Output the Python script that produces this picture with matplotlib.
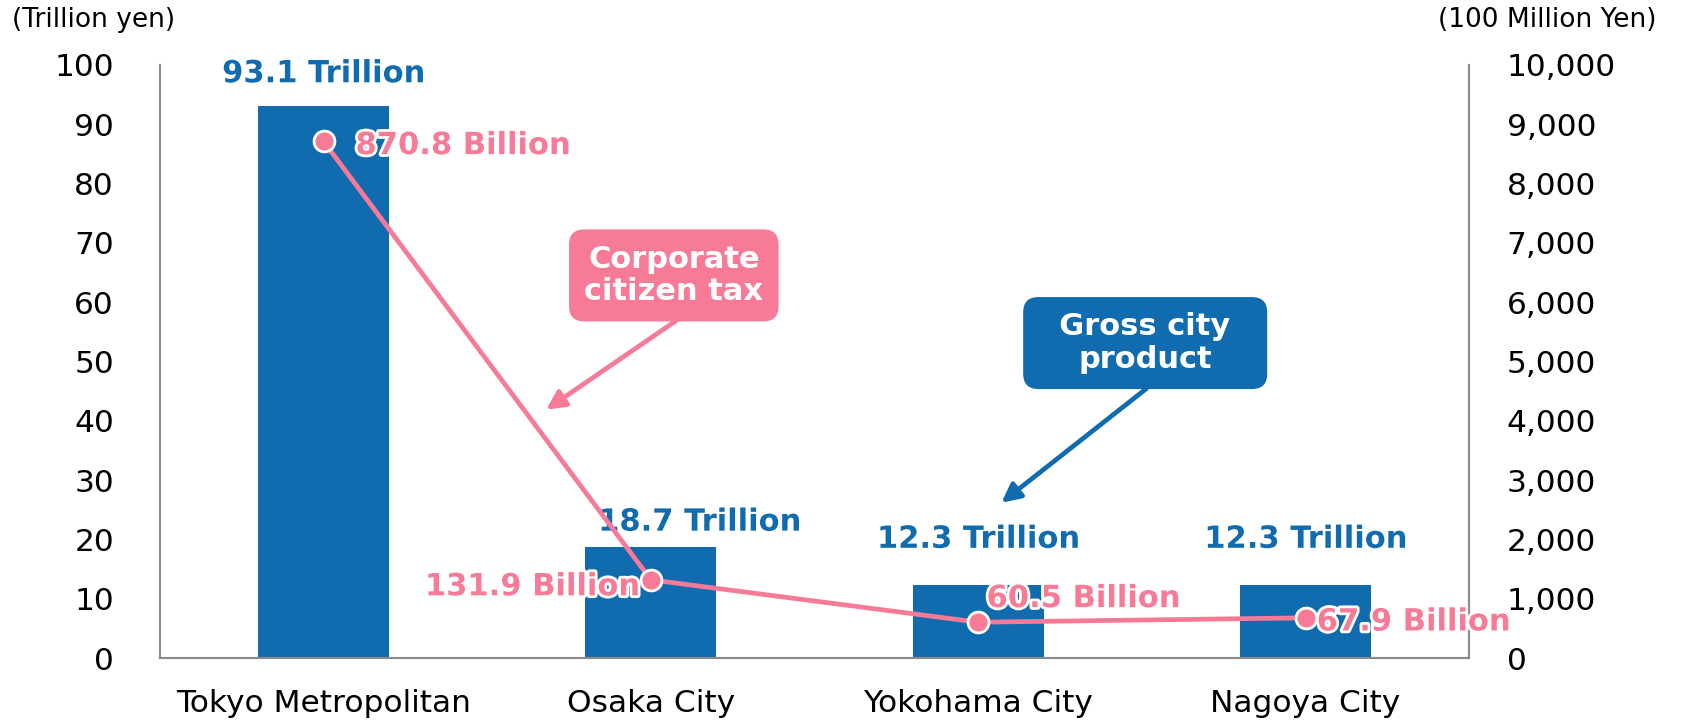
import matplotlib
matplotlib.use('Agg')
import matplotlib.pyplot as plt
import matplotlib.patheffects as pe

cities = ['Tokyo Metropolitan', 'Osaka City', 'Yokohama City', 'Nagoya City']
gdp = [93.1, 18.7, 12.3, 12.3]            # trillion yen
tax = [8708, 1319, 605, 679]              # 100 million yen
gdp_labels = ['93.1 Trillion', '18.7 Trillion', '12.3 Trillion', '12.3 Trillion']
tax_labels = ['870.8 Billion', '131.9 Billion', '60.5 Billion', '67.9 Billion']

blue = '#106BAF'
pink = '#F77A97'
grey = '#8C8C8C'

plt.rcParams['font.family'] = ['DejaVu Sans']

fig = plt.figure(figsize=(16.83, 7.28), dpi=100)
ax = fig.add_axes([0.095, 0.096, 0.778, 0.815])
ax2 = ax.twinx()

x = list(range(len(cities)))
ax.bar(x, gdp, width=0.4, color=blue, zorder=2)
ax.set_xlim(-0.5, 3.5)
ax.set_ylim(0, 100)
ax.set_yticks(range(0, 101, 10))
ax.set_xticks(x)
ax.set_xticklabels(cities, fontsize=22.5)
ax.tick_params(axis='y', length=0, pad=33, labelsize=22.5)
ax.tick_params(axis='x', length=0, pad=22)

ax2.plot(x, tax, color=pink, lw=3.4, marker='o', ms=15, mfc=pink,
         mec='white', mew=2, zorder=3)
ax2.set_ylim(0, 10000)
ax2.set_yticks(range(0, 10001, 1000))
ax2.set_yticklabels([f'{v:,}' for v in range(0, 10001, 1000)])
ax2.tick_params(axis='y', length=0, pad=27, labelsize=22.5)

for a in (ax, ax2):
    a.spines['top'].set_visible(False)
    for s in ('left', 'right', 'bottom'):
        a.spines[s].set_color(grey)
        a.spines[s].set_linewidth(1.5)

glow = [pe.withStroke(linewidth=4, foreground='white')]

# bar value labels
gdp_offsets = [(0, 23), (35, 18), (0, 33), (0, 33)]
for xi, v, lab, (dx, dy) in zip(x, gdp, gdp_labels, gdp_offsets):
    ax.annotate(lab, (xi, v), xytext=(dx, dy), textcoords='offset points',
                ha='center', va='center', fontsize=22, fontweight='bold',
                color=blue, path_effects=glow, zorder=5)

# line value labels
tax_pos = [((23, -3), 'left'), ((-8, -5), 'right'), ((6, 17), 'left'), ((8, -3), 'left')]
for xi, v, lab, ((dx, dy), ha) in zip(x, tax, tax_labels, tax_pos):
    ax2.annotate(lab, (xi, v), xytext=(dx, dy), textcoords='offset points',
                 ha=ha, va='center', fontsize=22, fontweight='bold',
                 color=pink, path_effects=glow, zorder=6)

# callout boxes
ax.annotate('', xy=(0.673, 41.6), xytext=(1.083, 57.1),
            arrowprops=dict(arrowstyle='-|>', color=pink, lw=3.4,
                            mutation_scale=28), zorder=6)
ax.text(1.07, 64.5, 'Corporate\ncitizen tax', ha='center', va='center',
        fontsize=22, fontweight='bold', color='white', linespacing=1.15,
        bbox=dict(boxstyle='round,pad=0.5,rounding_size=0.5', fc=pink, ec='none'),
        zorder=7)

ax.annotate('', xy=(2.064, 25.9), xytext=(2.52, 45.7),
            arrowprops=dict(arrowstyle='-|>', color=blue, lw=3.4,
                            mutation_scale=28), zorder=6)
ax.text(2.51, 53.1, '  Gross city  \nproduct', ha='center', va='center',
        fontsize=22, fontweight='bold', color='white', linespacing=1.15,
        bbox=dict(boxstyle='round,pad=0.5,rounding_size=0.5', fc=blue, ec='none'),
        zorder=7)

fig.text(0.007, 0.973, '(Trillion yen)', fontsize=19, ha='left', va='center')
fig.text(0.984, 0.973, '(100 Million Yen)', fontsize=19, ha='right', va='center')

fig.savefig('out.png', dpi=100)
